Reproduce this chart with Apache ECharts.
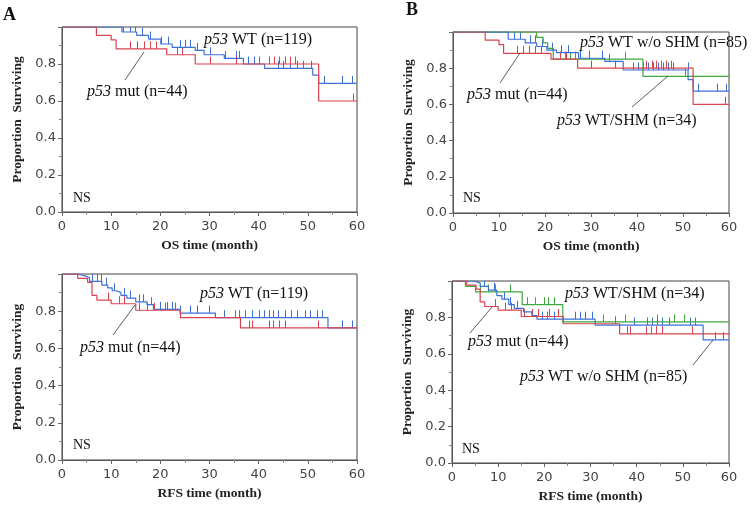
<!DOCTYPE html>
<html><head><meta charset="utf-8">
<script src="https://cdn.jsdelivr.net/npm/echarts@6/dist/echarts.min.js"></script>
<style>html,body{margin:0;padding:0;background:#fff}#c{width:753px;height:508px}</style>
</head><body><div id="c"></div>
<script>
// ---- Data: Kaplan-Meier steps [time, survival] and censor times ----
const xTicks = [0, 10, 20, 30, 40, 50, 60];
const yTicks = [0.0, 0.2, 0.4, 0.6, 0.8];

// OS, p53 mut (n=44)
const osMutSteps = [[0,1],[7,0.955],[10,0.93],[11,0.882],[21.3,0.85],[27.1,0.80],[52.2,0.60],[60,0.60]];
const osMutCens = [13.9,15.2,16.6,17.8,19.1,23.3,24.5,30,35.3,42,43.2,44.2,45.3,46.4,47.4,59.2];
// OS, p53 WT (n=119)
const osWtSteps = [[0,1],[12.2,0.973],[15.2,0.955],[17.6,0.935],[20.1,0.908],[22.4,0.89],[27.1,0.874],[28.9,0.85],[33,0.83],[36.9,0.80],[41.2,0.776],[51,0.74],[52.2,0.695],[60,0.695]];
const osWtCens = [12.4,13.9,14.9,16.3,17.8,20.2,21.6,24,25,26,27.5,30,33.1,35.4,36,37.9,39,40,44,45,46.4,47.8,49,50.6,53.2,57,59];
// OS, p53 WT/SHM (n=34)
const osShmSteps = [[0,1],[18.2,0.97],[19.6,0.94],[20.6,0.91],[21.8,0.85],[41.3,0.755],[60,0.755]];
const osShmCens = [15.3,16.8,18,23.3,24.4,25.5,26.6,37.4,50.5];
// OS, p53 WT w/o SHM (n=85)
const osNoShmSteps = [[0,1],[12,0.96],[15.7,0.94],[18.2,0.92],[20.4,0.90],[22.5,0.886],[27.3,0.855],[33,0.838],[37,0.79],[51.1,0.737],[52.2,0.673],[60,0.673]];
const osNoShmCens = [13.2,14.6,16.7,17.8,19.3,21.6,23.5,25,27.6,29.5,32.3,34,39.1,40.2,41.3,42.4,43.5,44.6,45.7,46.8,47.8,51,53.2,57.3,59.4];

// RFS, p53 mut (n=44)
const rfsMutSteps = [[0,1],[3.2,0.977],[5.2,0.955],[6.1,0.885],[7.1,0.86],[10,0.84],[15,0.805],[24.1,0.765],[36.3,0.71],[60,0.71]];
const rfsMutCens = [9.3,11.5,12.7,15.7,17.3,18.7,21,23,35.2,38,38.6,42,43,44.2,45.4,52];
// RFS, p53 WT (n=119)
const rfsWtSteps = [[0,1],[3.2,0.99],[4.7,0.98],[5.6,0.96],[8.1,0.94],[9.3,0.925],[10.2,0.91],[11,0.9],[12,0.885],[13.2,0.87],[15,0.85],[17.3,0.835],[18.6,0.81],[24,0.79],[31.2,0.765],[54.1,0.71],[60,0.71]];
const rfsWtCens = [6.1,7.1,8,9,10.5,12.6,13.8,15.6,16.5,18,19.9,21.3,22.4,24,26,27.5,29.9,32.9,35.9,37.3,38.6,40,41,42,43,44,45.4,46.5,47.8,49.5,50.5,51.9,52.9,56.9,59];
// RFS, p53 WT/SHM (n=34)
const rfsShmSteps = [[0,1],[2.9,0.97],[5.1,0.94],[15.2,0.87],[24,0.775],[60,0.775]];
const rfsShmCens = [6.1,7.9,9.4,12.6,16.2,18,19.9,20.9,22,32.8,37.5,44.4,48,50.2];
// RFS, p53 WT w/o SHM (n=85)
const rfsNoShmSteps = [[0,1],[4.7,0.99],[6.1,0.97],[7.9,0.95],[9.7,0.92],[10.8,0.90],[12.3,0.87],[13.5,0.85],[15.5,0.83],[17.3,0.81],[18.4,0.79],[31,0.758],[54.4,0.677],[60,0.677]];
const rfsNoShmCens = [5.4,6.9,9,11.3,12.6,14.1,19.5,20.6,22,26.7,27.8,28.9,30.3,39.4,42.2,43.3,44.4,45.5,46.9,51.6,52.7,57,58.8];

// ---- Styles ----
const RED = '#d9434f', BLUE = '#3d6fd8', GREEN = '#3ea83e';
const SERIF = '"Liberation Serif", "Times New Roman", serif';
const SANS = '"DejaVu Sans", Verdana, sans-serif';

function survAt(steps, t) { let s = 1; for (const [x, y] of steps) if (x <= t) s = y; return s; }

const grids = [
  { left: 62, top: 27, width: 295, height: 185 },
  { left: 453, top: 32, width: 276, height: 181 },
  { left: 62, top: 274, width: 295, height: 186 },
  { left: 452, top: 281, width: 277, height: 182 }
];
const xNames = ['OS time (month)', 'OS time (month)', 'RFS time (month)', 'RFS time (month)'];

const panels = [
  [[osWtSteps, osWtCens, BLUE], [osMutSteps, osMutCens, RED]],
  [[osShmSteps, osShmCens, GREEN], [osNoShmSteps, osNoShmCens, BLUE], [osMutSteps, osMutCens, RED]],
  [[rfsWtSteps, rfsWtCens, BLUE], [rfsMutSteps, rfsMutCens, RED]],
  [[rfsShmSteps, rfsShmCens, GREEN], [rfsNoShmSteps, rfsNoShmCens, BLUE], [rfsMutSteps, rfsMutCens, RED]]
];

const series = [];
panels.forEach((groups, gi) => {
  groups.forEach(([steps, cens, color]) => {
    series.push({
      type: 'line', xAxisIndex: gi, yAxisIndex: gi, step: 'end', symbol: 'none',
      data: steps, lineStyle: { color, width: 1.2 }, silent: true, animation: false, z: 3
    });
    series.push({
      type: 'custom', xAxisIndex: gi, yAxisIndex: gi, animation: false, silent: true, z: 3, clip: true,
      data: cens.map(t => [t, survAt(steps, t)]),
      encode: { x: 0, y: 1 },
      renderItem: (params, api) => {
        const p = api.coord([api.value(0), api.value(1)]);
        const x = Math.round(p[0]) + 0.5;
        return { type: 'line', shape: { x1: x, y1: p[1], x2: x, y2: p[1] - 7.5 }, style: { stroke: color, lineWidth: 1 } };
      }
    });
  });
});

const xAxis = grids.map((g, i) => ({
  gridIndex: i, type: 'value', min: xTicks[0], max: xTicks[xTicks.length - 1], interval: 10,
  name: xNames[i], nameLocation: 'middle', nameGap: 27,
  nameTextStyle: { fontFamily: SERIF, fontWeight: 'bold', fontSize: 13.5, color: '#222' },
  axisLine: { show: true, lineStyle: { color: '#555' } },
  axisTick: { show: true, length: 4, lineStyle: { color: '#666' } },
  minorTick: { show: true, splitNumber: 2, length: 3, lineStyle: { color: '#888' } },
  axisLabel: { fontFamily: SANS, fontSize: 13, color: '#444', margin: 8 },
  splitLine: { show: false }
}));
const yAxis = grids.map((g, i) => ({
  gridIndex: i, type: 'value', min: 0, max: 1, interval: 0.2,
  name: 'Proportion  Surviving', nameLocation: 'middle', nameGap: 37,
  nameTextStyle: { fontFamily: SERIF, fontWeight: 'bold', fontSize: 13.5, color: '#222' },
  axisLine: { show: true, lineStyle: { color: '#555' } },
  axisTick: { show: true, length: 4, lineStyle: { color: '#666' } },
  minorTick: { show: true, splitNumber: 2, length: 3, lineStyle: { color: '#888' } },
  axisLabel: { fontFamily: SANS, fontSize: 13, color: '#444', margin: 6,
    formatter: v => (yTicks.some(t => Math.abs(t - v) < 1e-9) ? v.toFixed(1) : '') },
  splitLine: { show: false }
}));

function label(x, y, rest) {
  return { type: 'text', x, y, z: 10,
    style: { text: '{i|p53} ' + rest, fill: '#111', font: '16px ' + SERIF, verticalAlign: 'middle', align: 'left',
      rich: { i: { fontStyle: 'italic', fontFamily: SERIF, fontSize: 16, fill: '#111' } } } };
}
function plain(x, y, text, font) {
  return { type: 'text', x, y, z: 10, style: { text, fill: '#111', font, verticalAlign: 'middle', align: 'left' } };
}
function leader(x1, y1, x2, y2) {
  return { type: 'line', z: 10, shape: { x1, y1, x2, y2 }, style: { stroke: '#333', lineWidth: 0.8 } };
}

const graphic = [
  plain(3, 15, 'A', 'bold 18px ' + SERIF),
  plain(406, 10, 'B', 'bold 18px ' + SERIF),
  label(204, 40, 'WT (n=119)'),
  label(87, 92, 'mut (n=44)'), leader(125, 80, 144, 52),
  label(200, 294, 'WT (n=119)'),
  label(80, 348, 'mut (n=44)'), leader(113, 335, 135, 305),
  label(580, 43, 'WT w/o SHM (n=85)'),
  label(467, 95, 'mut (n=44)'), leader(500, 83, 520, 53),
  label(557, 121, 'WT/SHM (n=34)'), leader(632, 107, 668, 76),
  label(565, 294, 'WT/SHM (n=34)'),
  label(468, 342, 'mut (n=44)'), leader(470, 333, 492, 307),
  label(520, 377, 'WT w/o SHM (n=85)'), leader(693, 365, 713, 340),
  plain(73, 198, 'NS', '14px ' + SERIF),
  plain(73, 445, 'NS', '14px ' + SERIF),
  plain(463, 198, 'NS', '14px ' + SERIF),
  plain(462, 449, 'NS', '14px ' + SERIF)
];

const chart = echarts.init(document.getElementById('c'), null, { renderer: 'canvas' });
chart.setOption({
  animation: false,
  backgroundColor: '#fff',
  grid: grids.map(g => Object.assign({ show: true, borderColor: '#444', borderWidth: 1, backgroundColor: 'transparent' }, g)),
  xAxis, yAxis, series, graphic
});
</script></body></html>
